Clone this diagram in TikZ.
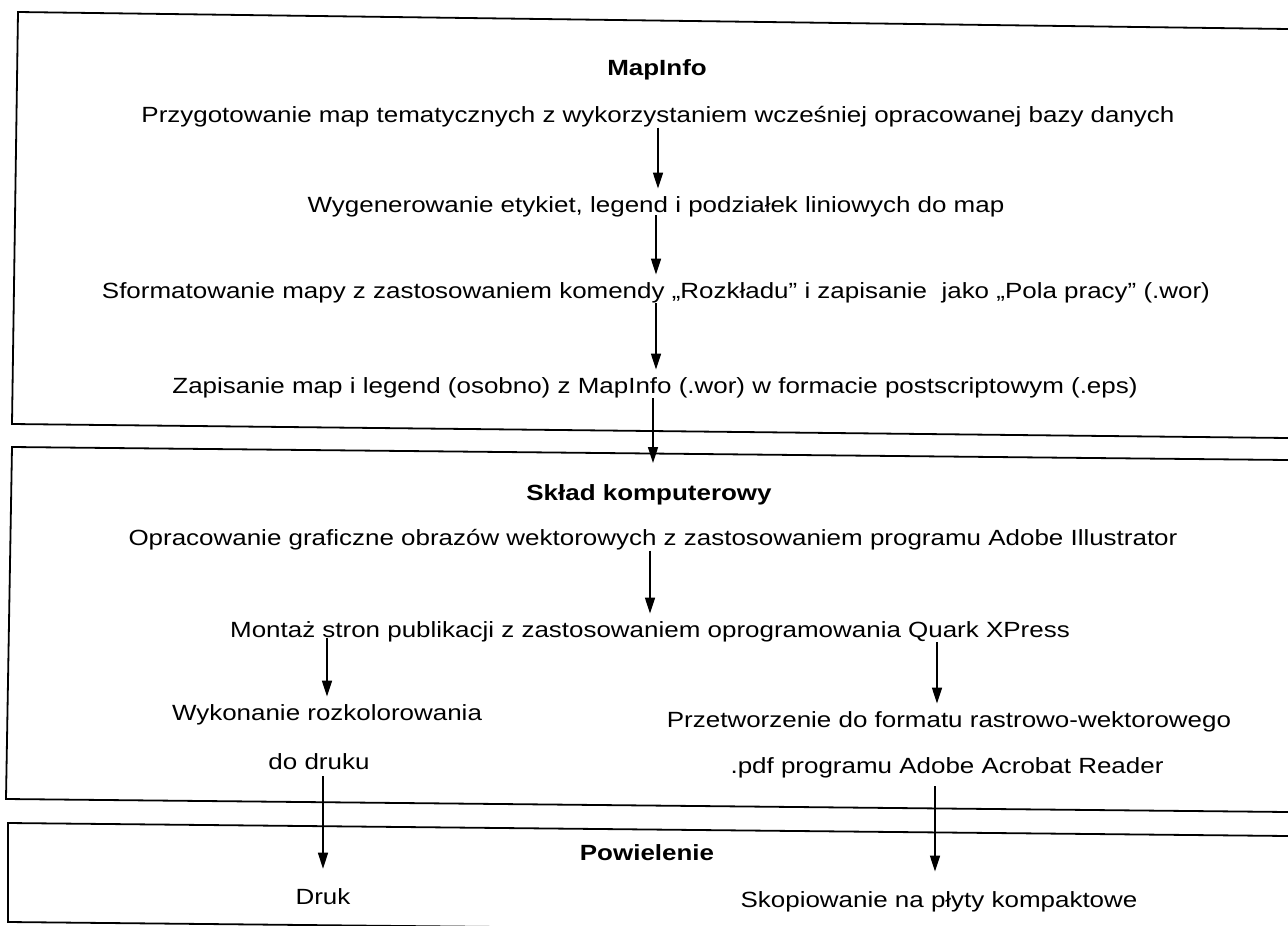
\documentclass[tikz,border=0pt]{standalone}
\usepackage{fontspec}
\setmainfont{Liberation Sans}[FakeStretch=1.18]
\usetikzlibrary{arrows.meta,calc}
\tikzset{
  txt/.style={inner sep=0pt, font=\fontsize{22}{25}\selectfont, anchor=center},
  hdr/.style={txt, font=\fontsize{22}{25}\selectfont\bfseries},
  arr/.style={line width=1.6pt, -{Triangle[length=16pt,width=10pt]}},
  frame/.style={line width=1.8pt},
}
\begin{document}
\begin{tikzpicture}[x=1pt,y=-1pt]
\useasboundingbox (0,0) rectangle (1288,926);
% frames
\draw[frame] (1288,29) -- (18,12) -- (12,424) -- (1288,438);
\draw[frame] (1288,460) -- (12,447) -- (6,799) -- (1288,812);
\draw[frame] (1288,836) -- (8,823) -- (8,922) -- (1288,935);
% texts
\node[hdr] (h1) at (657,70) {MapInfo};
\node[txt] (p1) at (658,117) {Przygotowanie map tematycznych z wykorzystaniem wcześniej opracowanej bazy danych};
\node[txt] (p2) at (656,207) {Wygenerowanie etykiet, legend i podziałek liniowych do map};
\node[txt] (p3) at (656,293) {Sformatowanie mapy z zastosowaniem komendy „Rozkładu” i zapisanie\ \ jako „Pola pracy” (.wor)};
\node[txt] (p4) at (655,388) {Zapisanie map i legend (osobno) z MapInfo (.wor) w formacie postscriptowym (.eps)};
\coordinate (c1) at (653,463);
\node[hdr] (h2) at (649,495) {Skład komputerowy};
\node[txt] (s1) at (653,540) {Opracowanie graficzne obrazów wektorowych z zastosowaniem programu Adobe Illustrator};
\node[txt] (s2) at (650,632) {Montaż stron publikacji z zastosowaniem oprogramowania Quark XPress};
\node[txt] (s3a) at (327,715) {Wykonanie rozkolorowania};
\node[txt] (s3b) at (319,762) {do druku};
\node[txt] (s4a) at (949,722) {Przetworzenie do formatu rastrowo-wektorowego};
\node[txt] (s4b) at (947,768) {.pdf programu Adobe Acrobat Reader};
\node[hdr] (h3) at (647,853) {Powielenie};
\node[txt] (d1) at (323,897) {Druk};
\node[txt] (d2) at (939,902) {Skopiowanie na płyty kompaktowe};
% arrows
\draw[arr, shorten >=8pt] (p1.south) -- (p1.south |- p2.north);
\draw[arr, shorten >=8pt, shorten <=-2pt] (p2.south) -- (p2.south |- p3.north);
\draw[arr, shorten >=8pt] (p3.south) -- (p3.south |- p4.north);
\draw[arr] (p4.south -| c1) -- (c1);
\draw[arr, shorten >=8pt] (s1.south -| s2.north) -- (s2.north);
\draw[arr, shorten >=8pt, shorten <=-4pt] (s2.south -| s3a.north) -- (s3a.north);
\draw[arr, shorten >=8pt] ($(s2.south -| s4a.north)+(-12,0)$) -- ($(s4a.north)+(-12,0)$);
\draw[arr, shorten >=20pt, shorten <=6pt] (s3b.south -| d1.north) -- (d1.north);
\draw[arr, shorten >=20pt, shorten <=8pt] ($(s4b.south)+(-12,0)$) -- ($(s4b.south |- d2.north)+(-12,0)$);
\end{tikzpicture}
\end{document}
